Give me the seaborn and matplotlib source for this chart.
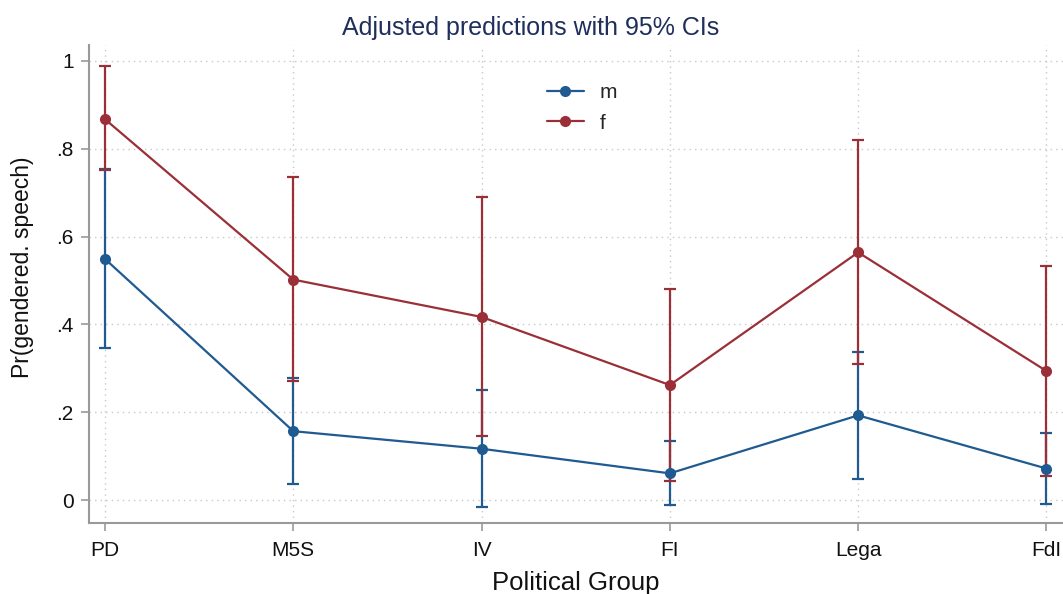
import matplotlib
matplotlib.use("Agg")
import matplotlib.pyplot as plt
import seaborn as sns
import pandas as pd
import numpy as np

groups = ["PD", "M5S", "IV", "FI", "Lega", "FdI"]
m_pred = [0.549, 0.157, 0.117, 0.061, 0.193, 0.072]
m_lo = [0.347, 0.036, -0.015, -0.011, 0.049, -0.009]
m_hi = [0.753, 0.279, 0.250, 0.135, 0.337, 0.152]
f_pred = [0.867, 0.502, 0.417, 0.262, 0.564, 0.294]
f_lo = [0.751, 0.272, 0.146, 0.043, 0.310, 0.054]
f_hi = [0.988, 0.735, 0.690, 0.480, 0.819, 0.533]
sexes = ["m", "f"]
colors = {"m": "#1f5a91", "f": "#9b2f37"}
yticks = [0, 0.2, 0.4, 0.6, 0.8, 1.0]
ytick_labels = ["0", ".2", ".4", ".6", ".8", "1"]

df = pd.DataFrame({
    "group": groups * 2,
    "x": list(range(len(groups))) * 2,
    "sex": ["m"] * len(groups) + ["f"] * len(groups),
    "pred": m_pred + f_pred,
    "lo": m_lo + f_lo,
    "hi": m_hi + f_hi,
})

sns.set_style("white")
plt.rcParams["font.family"] = ["Liberation Sans", "DejaVu Sans"]

fig = plt.figure(figsize=(10.63, 5.94), dpi=100)
ax = fig.add_axes([89 / 1063, 71 / 594, 1 - 89 / 1063, (523 - 45) / 594])

for i, s in enumerate(sexes):
    sub = df[df["sex"] == s]
    ax.errorbar(sub["x"], sub["pred"],
                yerr=[sub["pred"] - sub["lo"], sub["hi"] - sub["pred"]],
                fmt="none", ecolor=colors[s], elinewidth=1.6, capsize=4.5,
                capthick=1.6, zorder=3 + i)

sns.lineplot(data=df, x="x", y="pred", hue="sex", hue_order=sexes,
             palette=colors, marker="o", markersize=8, markeredgewidth=0,
             linewidth=1.6, ax=ax, zorder=5, legend=True)

ax.set_xlim(-0.085, 5.088)
ax.set_ylim(-0.052, 1.036)
ax.set_xticks(range(len(groups)))
ax.set_xticklabels(groups, fontsize=15)
ax.set_yticks(yticks)
ax.set_yticklabels(ytick_labels, fontsize=15)
ax.grid(True, linestyle=(0, (1, 3)), color="#c8c8c8", linewidth=1)
ax.tick_params(axis="both", direction="out", length=6, width=1.2,
               color="#999999", labelcolor="#111111", pad=5, left=True, bottom=True)
ax.tick_params(axis="x", pad=7)
for side in ["top", "right"]:
    ax.spines[side].set_visible(False)
for side in ["left", "bottom"]:
    ax.spines[side].set_color("#999999")
    ax.spines[side].set_linewidth(1.5)

ax.set_xlabel("Political Group", fontsize=18.5, color="#111111")
ax.xaxis.set_label_coords(0.5, -(572 - 523) / 478 + 0.002)
ax.xaxis.label.set_va("top")
ax.set_ylabel("Pr(gendered. speech)", fontsize=16.5, color="#111111")
ax.yaxis.set_label_coords((23 - 89) / 974, (523 - 267) / 478)
ax.yaxis.label.set_va("center")
fig.text(531 / 1063, 1 - 28 / 594, "Adjusted predictions with 95% CIs",
         ha="center", va="center", fontsize=18, color="#1e2f5c")

handles, labels = ax.get_legend_handles_labels()
leg = ax.legend(handles, labels, loc="center", bbox_to_anchor=(582 / 1063, 1 - 108 / 594),
                bbox_transform=fig.transFigure, frameon=False, fontsize=15,
                handlelength=1.8, handletextpad=0.75, labelspacing=0.55)

fig.savefig("out.png", dpi=100)
